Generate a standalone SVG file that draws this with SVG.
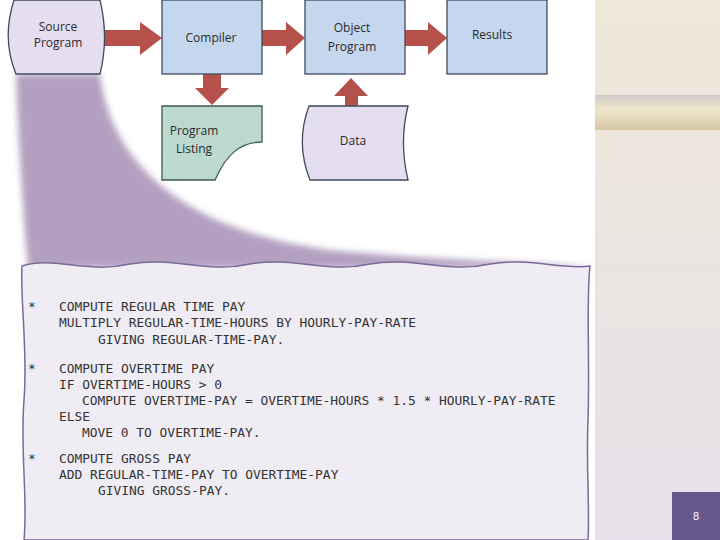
<svg xmlns="http://www.w3.org/2000/svg" width="720" height="540" viewBox="0 0 720 540">
<style>
.box{fill:#c5d7ef;stroke:#3c4a5c;stroke-width:1.3}
.doc{fill:#e4def0;stroke:#3c4a5c;stroke-width:1.3}
.lbl{font-family:"Open Sans","Liberation Sans",sans-serif;font-size:12px;fill:#2a2a2a;text-anchor:middle}
.arr{fill:#b5504a}
.code{font-family:"DejaVu Sans Mono","Liberation Mono",monospace;font-size:12.9px;fill:#333}
</style>
<defs>
<linearGradient id="side" x1="0" y1="0" x2="0" y2="1">
<stop offset="0" stop-color="#eee8d8"/><stop offset="1" stop-color="#e6e0ea"/>
</linearGradient>
<linearGradient id="band" x1="0" y1="0" x2="0" y2="1">
<stop offset="0" stop-color="#cfc8c8"/><stop offset="0.4" stop-color="#eee6cc"/><stop offset="1" stop-color="#d6c8a4"/>
</linearGradient>
<filter id="blur"><feGaussianBlur stdDeviation="3"/></filter>
</defs>
<rect width="720" height="540" fill="#fff"/>
<rect x="595" y="0" width="125" height="540" fill="url(#side)"/>
<rect x="595" y="95" width="125" height="35" fill="url(#band)"/>
<g id="page"><rect x="672" y="492" width="48" height="48" fill="#65578a"/>
<text x="696" y="520" font-family="Liberation Sans,sans-serif" font-size="11" fill="#fff" text-anchor="middle">8</text></g>
<g id="fan"><path d="M16,74 L100,74 C110,160 180,230 330,250 C450,262 560,262 592,268 L28,268 C22,200 18,130 16,74Z" fill="#b3a0c0" filter="url(#blur)"/></g>
<g id="connectors">
<path class="arr" d="M100,30 H140 V22 L162,38 L140,55 V46 H100Z"/>
<path class="arr" d="M262,30 H286 V22 L305,38 L286,55 V46 H262Z"/>
<path class="arr" d="M405,30 H428 V22 L447,38 L428,55 V46 H405Z"/>
<path class="arr" d="M203,74 H221 V88 H229 L212,105 L195,88 H203Z"/>
<path class="arr" d="M345,106 H358 V96 H368 L351,78 L334,96 H345Z"/>
</g>
<g id="source"><path class="doc" d="M14,0 H100 C106,25 106,50 100,74 H16 C6,50 6,25 14,0Z"/>
<text class="lbl" x="58" y="31">Source</text><text class="lbl" x="58" y="47">Program</text></g>
<g id="compiler"><rect class="box" x="162" y="0" width="100" height="74"/><text class="lbl" x="211" y="42">Compiler</text></g>
<g id="object"><rect class="box" x="305" y="0" width="100" height="74"/><text class="lbl" x="352" y="32">Object</text><text class="lbl" x="352" y="51">Program</text></g>
<g id="results"><rect class="box" x="447" y="0" width="100" height="74"/><text class="lbl" x="492" y="39">Results</text></g>
<g id="listing"><path d="M162,106 H262 V142 C240,142 226,155 215,180 H162Z" fill="#bcd9d0" stroke="#3c5a50" stroke-width="1.3"/>
<text class="lbl" x="194" y="135">Program</text><text class="lbl" x="194" y="153">Listing</text></g>
<g id="data"><path class="doc" d="M309,106 H408 C402,130 402,155 408,180 H310 C300,155 300,130 309,106Z"/>
<text class="lbl" x="353" y="145">Data</text></g>
<g id="codebox"><path d="M22,266 C55,256 85,274 130,264 C175,256 205,274 250,264 C295,256 325,274 370,264 C415,256 445,274 490,264 C530,257 560,270 590,266 C586,300 590,360 588,420 C586,470 590,510 588,540 H24 C28,500 20,450 24,400 C28,350 20,300 22,266Z" fill="#f0ecf4" stroke="#7a6a9a" stroke-width="1.5"/></g>
<g id="code" class="code">
<text x="28" y="311">*</text><text x="59" y="311">COMPUTE REGULAR TIME PAY</text>
<text x="59" y="327">MULTIPLY REGULAR-TIME-HOURS BY HOURLY-PAY-RATE</text>
<text x="98" y="344">GIVING REGULAR-TIME-PAY.</text>
<text x="28" y="373">*</text><text x="59" y="373">COMPUTE OVERTIME PAY</text>
<text x="59" y="389">IF OVERTIME-HOURS &gt; 0</text>
<text x="82" y="405">COMPUTE OVERTIME-PAY = OVERTIME-HOURS * 1.5 * HOURLY-PAY-RATE</text>
<text x="59" y="421">ELSE</text>
<text x="82" y="437">MOVE 0 TO OVERTIME-PAY.</text>
<text x="28" y="463">*</text><text x="59" y="463">COMPUTE GROSS PAY</text>
<text x="59" y="479">ADD REGULAR-TIME-PAY TO OVERTIME-PAY</text>
<text x="98" y="495">GIVING GROSS-PAY.</text>
</g>
</svg>
